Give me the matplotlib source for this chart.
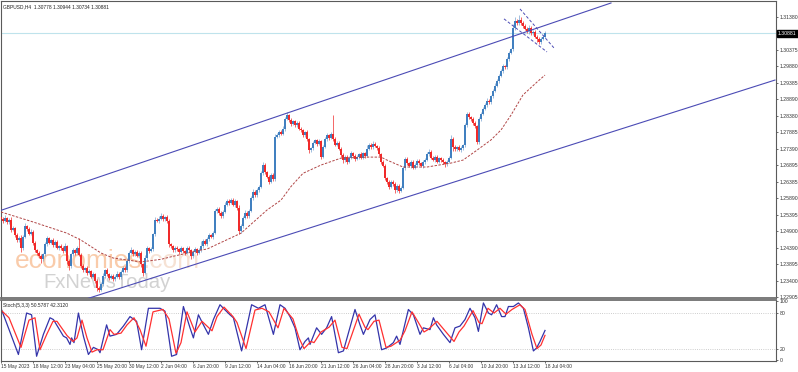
import matplotlib.pyplot as plt
import numpy as np

plt.rcParams["font.family"] = ["Liberation Sans", "DejaVu Sans"]

# GBPUSD H4 closes, bar 0 = 15 May 2023 20:00
closes = [
    1.2528, 1.2522, 1.2530, 1.2518, 1.2524, 1.2495, 1.2500, 1.2478, 1.2462, 1.2470,
    1.2438, 1.2472, 1.2505, 1.2498, 1.2482, 1.2488, 1.2455, 1.2432, 1.2425, 1.2415,
    1.2405, 1.2420, 1.2450, 1.2468, 1.2455, 1.2462, 1.2448, 1.2458, 1.2440, 1.2445,
    1.2438, 1.2430, 1.2445, 1.2400, 1.2385, 1.2420, 1.2432, 1.2425, 1.2440, 1.2418,
    1.2385, 1.2372, 1.2378, 1.2365, 1.2370, 1.2352, 1.2360, 1.2340, 1.2318, 1.2312,
    1.2330, 1.2355, 1.2372, 1.2360, 1.2348, 1.2355, 1.2345, 1.2352, 1.2362, 1.2350,
    1.2368, 1.2380, 1.2372, 1.2400, 1.2425, 1.2432, 1.2420, 1.2428, 1.2415, 1.2425,
    1.2390, 1.2365, 1.2410, 1.2438, 1.2430, 1.2436, 1.2480, 1.2525, 1.2522, 1.2528,
    1.2535, 1.2526, 1.2532, 1.2520, 1.2450, 1.2445, 1.2432, 1.2440, 1.2435, 1.2428,
    1.2438, 1.2430, 1.2425, 1.2440, 1.2432, 1.2415, 1.2428, 1.2436, 1.2425, 1.2432,
    1.2445, 1.2460, 1.2452, 1.2465, 1.2478, 1.2472, 1.2485, 1.2550, 1.2558, 1.2545,
    1.2535, 1.2548, 1.2570, 1.2582, 1.2575, 1.2585, 1.2570, 1.2580, 1.2560, 1.2490,
    1.2505, 1.2530, 1.2545, 1.2535, 1.2552, 1.2590, 1.2610, 1.2598, 1.2615, 1.2625,
    1.2665, 1.2690, 1.2668, 1.2655, 1.2640, 1.2660, 1.2648, 1.2775, 1.2782, 1.2790,
    1.2785, 1.2800, 1.2830, 1.2840, 1.2825, 1.2815, 1.2822, 1.2810, 1.2818, 1.2800,
    1.2795, 1.2780, 1.2790, 1.2768, 1.2735, 1.2742, 1.2758, 1.2765, 1.2755, 1.2762,
    1.2715, 1.2745, 1.2768, 1.2780, 1.2772, 1.2785, 1.2770, 1.2752, 1.2758, 1.2740,
    1.2720, 1.2705, 1.2715, 1.2700, 1.2712, 1.2725, 1.2718, 1.2708, 1.2715, 1.2722,
    1.2712, 1.2725, 1.2718, 1.2740, 1.2752, 1.2745, 1.2755, 1.2748, 1.2742, 1.2722,
    1.2700, 1.2688, 1.2650, 1.2638, 1.2625, 1.2640, 1.2632, 1.2615, 1.2628, 1.2612,
    1.2622, 1.2680, 1.2708, 1.2695, 1.2688, 1.2700, 1.2682, 1.2690, 1.2702, 1.2695,
    1.2688, 1.2698, 1.2705, 1.2722, 1.2730, 1.2712, 1.2705, 1.2715, 1.2700, 1.2710,
    1.2705, 1.2698, 1.2692, 1.2700, 1.2712, 1.2770, 1.2745, 1.2738, 1.2745, 1.2735,
    1.2742, 1.2750, 1.2810, 1.2845, 1.2835, 1.2828, 1.2818, 1.2808, 1.2760, 1.2830,
    1.2845, 1.2860, 1.2872, 1.2885, 1.2880, 1.2898, 1.2915, 1.2930, 1.2945, 1.2960,
    1.2975, 1.2990, 1.2985, 1.3010, 1.3030, 1.3040, 1.3105, 1.3125, 1.3118, 1.3130,
    1.3120, 1.3110, 1.3102, 1.3095, 1.3105, 1.3088, 1.3092, 1.3078, 1.3070, 1.3062,
    1.3072, 1.30778, 1.30881,
]
first_open = 1.2532

# wick lengths in pips above / below the candle body
wick_up = [
    6, 5, 8, 4, 6, 10, 5, 4, 6, 5, 8, 6, 9, 5, 4, 8, 6, 5, 4, 6,
    6, 5, 8, 6, 5, 4, 7, 5, 6, 4, 5, 6, 8, 4, 6, 5, 8, 4, 6, 29,
    6, 5, 4, 6, 5, 4, 6, 5, 4, 5, 6, 8, 5, 6, 4, 5, 6, 5, 8, 4,
    5, 6, 5, 8, 6, 10, 5, 6, 4, 5, 6, 5, 8, 6, 4, 5, 6, 8, 6, 7,
    10, 6, 5, 6, 8, 5, 4, 6, 5, 4, 6, 5, 4, 6, 5, 4, 6, 5, 4, 6,
    15, 6, 5, 6, 8, 5, 6, 8, 6, 5, 5, 6, 8, 6, 5, 6, 5, 6, 4, 8,
    6, 5, 8, 6, 5, 6, 8, 5, 6, 5, 8, 10, 6, 5, 4, 6, 5, 8, 6, 5,
    6, 8, 6, 10, 5, 6, 5, 4, 6, 5, 6, 5, 4, 6, 5, 4, 6, 5, 4, 6,
    5, 6, 8, 6, 5, 6, 56, 6, 5, 4, 6, 5, 4, 6, 5, 6, 5, 4, 6, 5,
    6, 5, 4, 10, 6, 5, 8, 5, 4, 6, 5, 6, 4, 5, 6, 4, 5, 6, 5, 4,
    6, 8, 6, 5, 4, 5, 6, 5, 6, 5, 4, 6, 5, 6, 8, 5, 4, 6, 5, 4,
    5, 6, 4, 5, 6, 11, 5, 6, 4, 5, 6, 5, 8, 6, 5, 4, 6, 5, 4, 6,
    5, 6, 5, 8, 6, 5, 6, 8, 6, 5, 6, 5, 4, 8, 6, 5, 10, 12, 8, 14,
    8, 6, 5, 6, 8, 5, 6, 5, 4, 6, 5, 6, 6,
]
wick_dn = [
    5, 6, 4, 5, 6, 8, 5, 6, 5, 4, 12, 5, 4, 6, 5, 4, 6, 5, 8, 6,
    10, 5, 4, 6, 5, 4, 6, 5, 4, 6, 5, 6, 4, 8, 12, 5, 4, 6, 5, 4,
    6, 5, 4, 6, 5, 4, 5, 6, 8, 6, 4, 5, 6, 5, 6, 4, 6, 5, 4, 6,
    5, 4, 6, 5, 6, 4, 6, 5, 4, 6, 8, 10, 5, 6, 5, 4, 6, 5, 4, 6,
    5, 6, 4, 6, 8, 5, 6, 4, 5, 6, 5, 6, 8, 5, 6, 10, 5, 4, 6, 5,
    6, 5, 4, 6, 5, 4, 6, 5, 4, 6, 5, 6, 4, 5, 6, 4, 5, 6, 5, 10,
    6, 5, 4, 6, 5, 4, 6, 5, 4, 6, 5, 4, 6, 5, 8, 4, 6, 5, 4, 6,
    5, 4, 6, 5, 4, 6, 5, 4, 6, 5, 4, 6, 5, 4, 8, 6, 5, 4, 6, 5,
    8, 5, 4, 6, 5, 4, 6, 5, 4, 6, 6, 8, 5, 6, 5, 4, 6, 5, 4, 6,
    5, 4, 6, 5, 4, 6, 5, 4, 6, 5, 6, 5, 4, 6, 8, 5, 6, 10, 5, 6,
    5, 4, 6, 5, 4, 6, 5, 4, 6, 5, 4, 6, 5, 4, 6, 5, 4, 6, 5, 4,
    6, 5, 8, 6, 5, 4, 12, 6, 5, 4, 6, 5, 4, 6, 5, 4, 6, 5, 6, 5,
    6, 5, 4, 6, 5, 4, 6, 5, 4, 6, 5, 6, 4, 5, 6, 4, 5, 6, 4, 5,
    6, 5, 4, 6, 8, 5, 6, 4, 8, 6, 5, 4, 4,
]

# moving average (dashed red line), sampled at bars
ma_bars = [0, 16, 33, 40, 50, 56, 70, 80, 86, 100, 103, 120, 133, 140, 145, 151,
           160, 170, 183, 190, 193, 201, 213, 225, 231, 238, 245, 250, 255, 261, 268, 272]
ma_vals = [1.2548, 1.2518, 1.2484, 1.2463, 1.2424, 1.2409, 1.2397, 1.2405, 1.2414, 1.2433,
           1.2436, 1.2484, 1.2554, 1.2584, 1.2625, 1.2665, 1.2690, 1.2711, 1.2714, 1.2714,
           1.2705, 1.2684, 1.2684, 1.2696, 1.2705, 1.2735, 1.2766, 1.2796, 1.2841, 1.2902,
           1.2941, 1.2962]

# trend lines drawn on the chart
chan_up_bars = [-1, 305]
chan_up_vals = [1.2551, 1.3180]
chan_lo_bars = [40, 387]
chan_lo_vals = [1.2280, 1.2947]
wedge_a_bars = [259.5, 276.5]
wedge_a_vals = [1.3162, 1.3044]
wedge_b_bars = [251.5, 273]
wedge_b_vals = [1.3132, 1.3032]

last_price = 1.30881

# Stochastic (5,3,3)
st_main_bars = [0, 3.7, 8.7, 12.8, 15.3, 17.8, 21.2, 24.5, 26.2, 31.2,
                32.8, 34.5, 35.3, 36.5, 38.7, 41.2, 43.7, 46.2, 48.7, 49.5,
                52.8, 54.5, 57.8, 61.2, 64.5, 67.8, 70.3, 73.7, 79.5, 82,
                85.3, 87.8, 91.2, 94.5, 96.2, 98.7, 101.2, 103.7, 106.2, 109.5,
                111.2, 114.5, 116.2, 120.3, 125.3, 128.7, 132, 136.2, 139.5, 142,
                144.5, 147, 149.5, 152, 153.7, 154.5, 157.8, 160.3, 162.8, 165.3,
                168.7, 171.2, 177, 179.5, 181.2, 184.5, 187, 190.3, 192.8, 196.2,
                197.8, 199.5, 203.7, 206.2, 209.5, 211.2, 214.5, 216.2, 217.8, 221.2,
                224.5, 227, 229.5, 232, 234.5, 237, 238.7, 241.2, 243.7, 245.3,
                247.8, 250.3, 252, 253.7, 256.2, 258.7, 261.2, 263.7, 266.2, 267.8,
                269.5, 272]
st_main_vals = [88, 55, 10, 80, 77, 7, 44, 72, 69, 41,
                38, 27, 38, 30, 80, 41, 10, 22, 18, 13,
                60, 41, 44, 58, 74, 66, 18, 88, 88, 83,
                7, 10, 91, 55, 38, 77, 60, 44, 69, 94,
                88, 77, 72, 16, 94, 88, 94, 44, 94, 88,
                74, 55, 18, 32, 38, 27, 55, 44, 55, 74,
                13, 16, 86, 60, 44, 69, 77, 18, 21, 30,
                41, 27, 86, 77, 44, 55, 52, 72, 60, 44,
                30, 55, 58, 69, 88, 72, 49, 97, 80, 77,
                94, 74, 74, 91, 91, 97, 88, 55, 16, 21,
                32, 50.5787]
st_sig_bars = [0, 4, 10, 14, 17, 19.5, 23, 26, 28, 33,
               36, 38, 40.5, 43, 45.5, 48, 51, 54.5, 56.5, 60,
               63, 66.5, 69.5, 72.5, 76, 81, 84, 87.5, 90, 93,
               97, 100.5, 103, 105.5, 108, 111.5, 116, 118, 122.5, 127,
               130.5, 134, 138.5, 141.5, 146, 149, 151.5, 155, 156.5, 160,
               164, 167, 170.5, 173, 179, 182, 183.5, 186.5, 189, 192.5,
               195, 199.5, 202, 205.5, 208, 211.5, 213.5, 218, 223, 226.5,
               229, 231.5, 236, 239, 240.5, 243.5, 246.5, 249.5, 252.5, 255.5,
               259.5, 262, 265.5, 268, 270, 272]
st_sig_vals = [85, 72, 22, 68, 72, 18, 45, 66, 66, 42,
               32, 38, 68, 38, 14, 18, 18, 52, 44, 46,
               60, 72, 52, 24, 82, 86, 70, 12, 30, 82,
               48, 66, 58, 50, 74, 90, 74, 64, 20, 85,
               88, 82, 55, 88, 70, 38, 20, 32, 30, 48,
               56, 68, 22, 20, 78, 56, 52, 66, 68, 22,
               24, 34, 50, 82, 68, 48, 52, 66, 46, 32,
               48, 58, 84, 64, 62, 88, 80, 88, 78, 86,
               94, 86, 44, 20, 26, 42.3120]

price_ticks = [1.31380, 1.30375, 1.29880, 1.29385, 1.28890, 1.28380, 1.27885, 1.27390,
               1.26895, 1.26385, 1.25890, 1.25395, 1.24900, 1.24390, 1.23895, 1.23400, 1.22905]
time_tick_bars = list(range(0, 273, 16))
time_tick_labels = ["15 May 2023", "18 May 12:00", "23 May 04:00", "25 May 20:00",
                    "30 May 12:00", "2 Jun 04:00", "6 Jun 20:00", "9 Jun 12:00",
                    "14 Jun 04:00", "16 Jun 20:00", "21 Jun 12:00", "26 Jun 04:00",
                    "28 Jun 20:00", "3 Jul 12:00", "6 Jul 04:00", "10 Jul 20:00",
                    "13 Jul 12:00", "18 Jul 04:00"]

# ---- build candles ----
c = np.array(closes)
o = np.r_[first_open, c[:-1]]
hi = np.maximum(o, c) + np.array(wick_up) / 1e4
lo = np.minimum(o, c) - np.array(wick_dn) / 1e4
x = np.arange(len(c))
up = c >= o

W, H = 798, 372
fig = plt.figure(figsize=(W / 100, H / 100), dpi=100)
ax = fig.add_axes([1 / W, 1 - 298 / H, 775 / W, 297 / H])
ax2 = fig.add_axes([1 / W, 1 - 361 / H, 775 / W, 61 / H])

frame = "#5a5a5a"
for a in (ax, ax2):
    for s in a.spines.values():
        s.set_color(frame)
        s.set_linewidth(0.8)
ax.spines["bottom"].set_linewidth(1.3)
ax.spines["bottom"].set_color("#707070")
ax2.spines["top"].set_linewidth(1.3)
ax2.spines["top"].set_color("#707070")

# watermark behind the candles
ax.text(143 / W, 1 - 268 / H, "economies", transform=fig.transFigure, ha="right",
        va="baseline", fontsize=19, color="#f9cbaa", zorder=0)
ax.text(143 / W, 1 - 268 / H, ".com", transform=fig.transFigure, ha="left",
        va="baseline", fontsize=19, color="#f6e2d4", zorder=0)
ax.text(43 / W, 1 - 288 / H, "FxNewsToday", transform=fig.transFigure, ha="left",
        va="baseline", fontsize=14.6, color="#d2d2d2", zorder=0)

up_col, dn_col = "#4180c0", "#f02a2a"
ax.vlines(x[up], lo[up], hi[up], color="#7aa4d2", lw=0.5, zorder=2)
ax.vlines(x[~up], lo[~up], hi[~up], color=dn_col, lw=0.5, zorder=2)
body = np.maximum(np.abs(c - o), 0.00006)
ax.bar(x[up], body[up], bottom=np.minimum(o, c)[up], width=0.6, color=up_col,
       linewidth=0, zorder=3)
ax.bar(x[~up], body[~up], bottom=np.minimum(o, c)[~up], width=0.6, color=dn_col,
       linewidth=0, zorder=3)

line_col = "#4b4bb5"
ax.plot(chan_up_bars, chan_up_vals, color=line_col, lw=0.8, zorder=4)
ax.plot(chan_lo_bars, chan_lo_vals, color=line_col, lw=0.8, zorder=4)
ax.plot(wedge_a_bars, wedge_a_vals, color=line_col, lw=0.7, dashes=(3, 2), zorder=4)
ax.plot(wedge_b_bars, wedge_b_vals, color=line_col, lw=0.7, dashes=(3, 2), zorder=4)
ax.plot(ma_bars, ma_vals, color="#b04545", lw=0.7, dashes=(2.5, 1.5), zorder=4)
ax.axhline(last_price, color="#bfe3ec", lw=0.8, zorder=1)

ax.set_xlim(0, 387.5)
ax.set_ylim(1.2288, 1.3186)
ax.set_xticks([])
ax.yaxis.tick_right()
ax.set_yticks(price_ticks)
ax.set_yticklabels([f"{v:.5f}" for v in price_ticks])
ax.tick_params(axis="y", length=1.5, width=0.5, pad=1, labelsize=3.7,
               colors="#333333")

fig.text(778 / W, 1 - 33.5 / H, f"{last_price:.5f}", color="white", fontsize=3.7,
         va="center", ha="left",
         bbox=dict(boxstyle="square,pad=0.25", fc="black", ec="black"))
fig.text(3 / W, 1 - 7 / H, "GBPUSD,H4  1.30778 1.30944 1.30734 1.30881",
         fontsize=3.5, va="center", color="#222222")

# stochastic panel
ax2.axhline(80, color="#bdbdbd", lw=0.6, ls=":")
ax2.axhline(20, color="#bdbdbd", lw=0.6, ls=":")
ax2.plot(st_main_bars, st_main_vals, color="#3434aa", lw=0.9)
ax2.plot(st_sig_bars, st_sig_vals, color="#ff3030", lw=0.9)
ax2.set_xlim(0, 387.5)
ax2.set_ylim(-1, 102)
ax2.yaxis.tick_right()
ax2.set_yticks([0, 20, 80, 100])
ax2.set_yticklabels(["0", "20", "80", "100"])
ax2.tick_params(axis="y", length=1.5, width=0.5, pad=1, labelsize=3.7,
                colors="#333333")
ax2.set_xticks(time_tick_bars)
ax2.set_xticklabels(time_tick_labels, ha="left")
ax2.tick_params(axis="x", length=1.5, width=0.5, pad=1, labelsize=3.5,
                colors="#333333")
fig.text(3 / W, 1 - 305 / H, "Stoch(5,3,3) 50.5787 42.3120", fontsize=3.5,
         va="center", color="#222222")

fig.savefig("out.png", dpi=100, facecolor="white")
